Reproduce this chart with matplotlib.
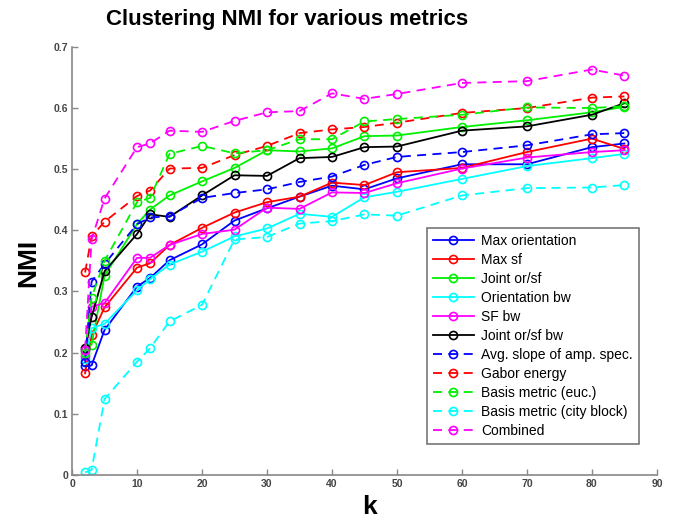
import numpy as np
import matplotlib
matplotlib.use('Agg')
import matplotlib.pyplot as plt

# number of clusters
k = [2, 3, 5, 10, 12, 15, 20, 25, 30, 35, 40, 45, 50, 60, 70, 80, 85]

# NMI per metric
max_orientation = [0.178, 0.179, 0.237, 0.308, 0.322, 0.351, 0.377, 0.416, 0.436, 0.455, 0.473,
                   0.467, 0.485, 0.508, 0.508, 0.536, 0.542]
max_sf = [0.166, 0.228, 0.274, 0.339, 0.346, 0.376, 0.404, 0.429, 0.446, 0.455, 0.478,
          0.474, 0.495, 0.502, 0.528, 0.550, 0.533]
joint_or_sf = [0.205, 0.213, 0.326, 0.410, 0.434, 0.457, 0.480, 0.502, 0.531, 0.529, 0.534,
               0.554, 0.555, 0.569, 0.580, 0.593, 0.602]
orientation_bw = [0.190, 0.240, 0.247, 0.302, 0.320, 0.344, 0.365, 0.390, 0.403, 0.427, 0.422,
                  0.454, 0.463, 0.484, 0.505, 0.518, 0.525]
sf_bw = [0.195, 0.275, 0.281, 0.355, 0.355, 0.376, 0.394, 0.401, 0.437, 0.435, 0.462,
         0.461, 0.477, 0.501, 0.519, 0.528, 0.531]
joint_or_sf_bw = [0.208, 0.258, 0.333, 0.394, 0.426, 0.422, 0.457, 0.490, 0.489, 0.518, 0.520,
                  0.536, 0.537, 0.563, 0.570, 0.589, 0.608]
avg_slope = [0.185, 0.316, 0.345, 0.410, 0.421, 0.423, 0.453, 0.461, 0.467, 0.479, 0.488,
             0.507, 0.520, 0.528, 0.539, 0.557, 0.559]
gabor_energy = [0.331, 0.390, 0.414, 0.456, 0.465, 0.501, 0.502, 0.523, 0.538, 0.559, 0.565,
                0.569, 0.576, 0.592, 0.600, 0.617, 0.619]
basis_euc = [0.200, 0.290, 0.350, 0.446, 0.453, 0.525, 0.538, 0.526, 0.531, 0.549, 0.549,
             0.578, 0.582, 0.589, 0.601, 0.600, 0.603]
basis_city = [0.004, 0.008, 0.124, 0.185, 0.207, 0.251, 0.278, 0.385, 0.389, 0.411, 0.415,
              0.426, 0.424, 0.457, 0.469, 0.470, 0.474]
combined = [0.205, 0.385, 0.452, 0.536, 0.542, 0.563, 0.561, 0.579, 0.593, 0.595, 0.624,
            0.615, 0.623, 0.641, 0.644, 0.663, 0.653]

labels = ['Max orientation', 'Max sf', 'Joint or/sf', 'Orientation bw', 'SF bw',
          'Joint or/sf bw', 'Avg. slope of amp. spec.', 'Gabor energy',
          'Basis metric (euc.)', 'Basis metric (city block)', 'Combined']
series = [max_orientation, max_sf, joint_or_sf, orientation_bw, sf_bw, joint_or_sf_bw,
          avg_slope, gabor_energy, basis_euc, basis_city, combined]
colors = ['#0000ff', '#ff0000', '#00f000', '#00ffff', '#ff00ff', '#000000',
          '#0000ff', '#ff0000', '#00f000', '#00ffff', '#ff00ff']
dashed = [False] * 6 + [True] * 5

plt.rcParams['font.family'] = ['Liberation Sans', 'DejaVu Sans']

fig = plt.figure(figsize=(6.8, 5.27), dpi=100)
ax = fig.add_axes([0.106, 0.099, 0.860, 0.812])

for vals, lab, col, dsh in zip(series, labels, colors, dashed):
    ls = (0, (5, 3.5)) if dsh else '-'
    ax.plot(k, vals, color=col, linestyle=ls, linewidth=1.3, marker='o',
            markersize=5.8, markerfacecolor='none', markeredgewidth=1.2,
            markeredgecolor=col, label=lab)

ax.set_xlim(0, 90)
ax.set_ylim(0, 0.7)
ax.set_xticks(np.arange(0, 91, 10))
ax.set_yticks(np.arange(0, 0.71, 0.1))
ax.set_yticklabels(['0', '0.1', '0.2', '0.3', '0.4', '0.5', '0.6', '0.7'])
ax.tick_params(direction='in', length=4, width=1, colors='#888888',
               labelcolor='#444444', labelsize=7.5, pad=3)
for lbl in ax.get_xticklabels() + ax.get_yticklabels():
    lbl.set_fontweight('bold')
ax.spines['top'].set_visible(False)
ax.spines['right'].set_visible(False)
for s in ['left', 'bottom']:
    ax.spines[s].set_color('#888888')
    ax.spines[s].set_linewidth(1.2)

leg = ax.legend(loc='lower right', bbox_to_anchor=(0.969, 0.072), borderaxespad=0,
                fancybox=False, edgecolor='#777777', framealpha=1,
                handlelength=2.95, handletextpad=0.5, labelspacing=0.36,
                borderpad=0.45, prop={'size': 10})
leg.get_frame().set_linewidth(1.2)

fig.text(0.422, 1 - 19 / 527, 'Clustering NMI for various metrics', ha='center',
         va='center', fontsize=16, fontweight='bold')
fig.text(28 / 680, 1 - 263 / 527, 'NMI', rotation=90, ha='center', va='center',
         fontsize=19, fontweight='bold')
fig.text(370 / 680, 1 - 507 / 527, 'k', ha='center', va='center',
         fontsize=19, fontweight='bold')

fig.savefig('out.png', dpi=100)
